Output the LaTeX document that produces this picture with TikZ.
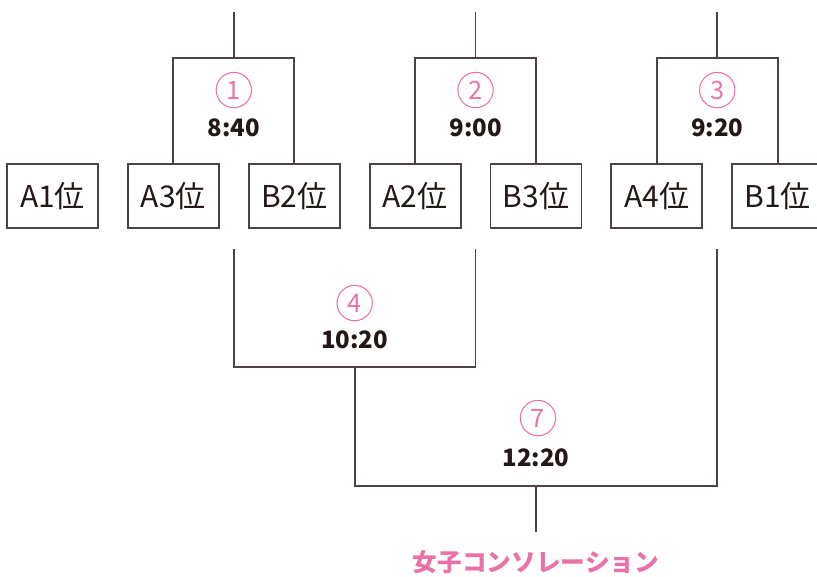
\documentclass[tikz,border=0pt]{standalone}
\usepackage{fontspec}
\setmainfont{Noto Sans CJK JP}
\usetikzlibrary{positioning,calc}
\definecolor{linegray}{RGB}{77,67,67}
\definecolor{inkdark}{RGB}{35,24,21}
\definecolor{rosepink}{RGB}{233,115,168}
\tikzset{
  teambox/.style={draw=linegray, line width=1.4pt, minimum width=68.25pt, minimum height=48pt, inner sep=0pt, text=inkdark, font=\fontsize{22.5}{22.5}\selectfont},
  bracket/.style={draw=linegray, line width=1.4pt},
  gamenum/.style={circle, draw=rosepink, line width=0.8pt, minimum size=26.5pt, inner sep=0pt, text=rosepink, font=\fontsize{19}{19}\selectfont},
  gametime/.style={inner sep=0pt, text=inkdark, font=\bfseries\fontsize{18}{18}\selectfont}
}
\begin{document}
\begin{tikzpicture}[x=0.75pt,y=-0.75pt]
\useasboundingbox (0,0) rectangle (817,577);
%\draw[help lines] (0,0) grid (817,577);
\node[teambox] (a1) at (52.5,196) {A1位};
\node[teambox, right=21pt of a1] (a3) {A3位};
\node[teambox, right=21pt of a3] (b2) {B2位};
\node[teambox, right=21pt of b2] (a2) {A2位};
\node[teambox, right=21pt of a2] (b3) {B3位};
\node[teambox, right=21pt of b3] (a4) {A4位};
\node[teambox, right=21pt of a4] (b1) {B1位};
\coordinate (j1) at ($(a3.north)!0.5!(b2.north)+(0,-105)$);
\coordinate (j2) at ($(a2.north)!0.5!(b3.north)+(0,-105)$);
\coordinate (j3) at ($(a4.north)!0.5!(b1.north)+(0,-105)$);
\coordinate (s1) at ($(j1)+(0,-46)$);
\coordinate (s2) at ($(j2)+(0,-46)$);
\coordinate (s3) at ($(j3)+(0,-46)$);
\coordinate (u1) at ($(j1)+(0,191)$);
\coordinate (u2) at ($(j2)+(0,191)$);
\coordinate (u3) at ($(j3)+(0,191)$);
\coordinate (j4) at ($(u1)!0.5!(u2)+(0,118)$);
\coordinate (j7) at ($(j4)!0.5!(u3|-j4)+(0,119)$);
\coordinate (s7) at ($(j7)+(0,46)$);
\draw[bracket] (a3.north) |- (j1) -| (b2.north);
\draw[bracket] (a2.north) |- (j2) -| (b3.north);
\draw[bracket] (a4.north) |- (j3) -| (b1.north);
\draw[bracket] (j1) -- (s1);
\draw[bracket] (j2) -- (s2);
\draw[bracket] (j3) -- (s3);
\draw[bracket] (u1) |- (j4) -| (u2);
\draw[bracket] (j4) |- (j7) -| (u3);
\draw[bracket] (j7) -- (s7);
\node[gamenum] (g1) at ($(j1)+(0,32)$) {1};
\node[gamenum] (g2) at ($(j2)+(0,32)$) {2};
\node[gamenum] (g3) at ($(j3)+(0,32)$) {3};
\node[gamenum] (g4) at ($(j4)+(0,-64)$) {4};
\node[gamenum] (g7) at ($(j7)+(2,-68)$) {7};
\node[gametime] (t1) at ($(j1)+(0,70)$) {8:40};
\node[gametime] (t2) at ($(j2)+(0,70)$) {9:00};
\node[gametime] (t3) at ($(j3)+(0,70)$) {9:20};
\node[gametime] (t4) at ($(j4)+(0,-27)$) {10:20};
\node[gametime] (t7) at ($(j7)+(0,-28)$) {12:20};
\node[text=rosepink, font=\bfseries\fontsize{18.5}{18.5}\selectfont] (title) at ($(s7)+(0,30)$) {女子コンソレーション};
\end{tikzpicture}
\end{document}
